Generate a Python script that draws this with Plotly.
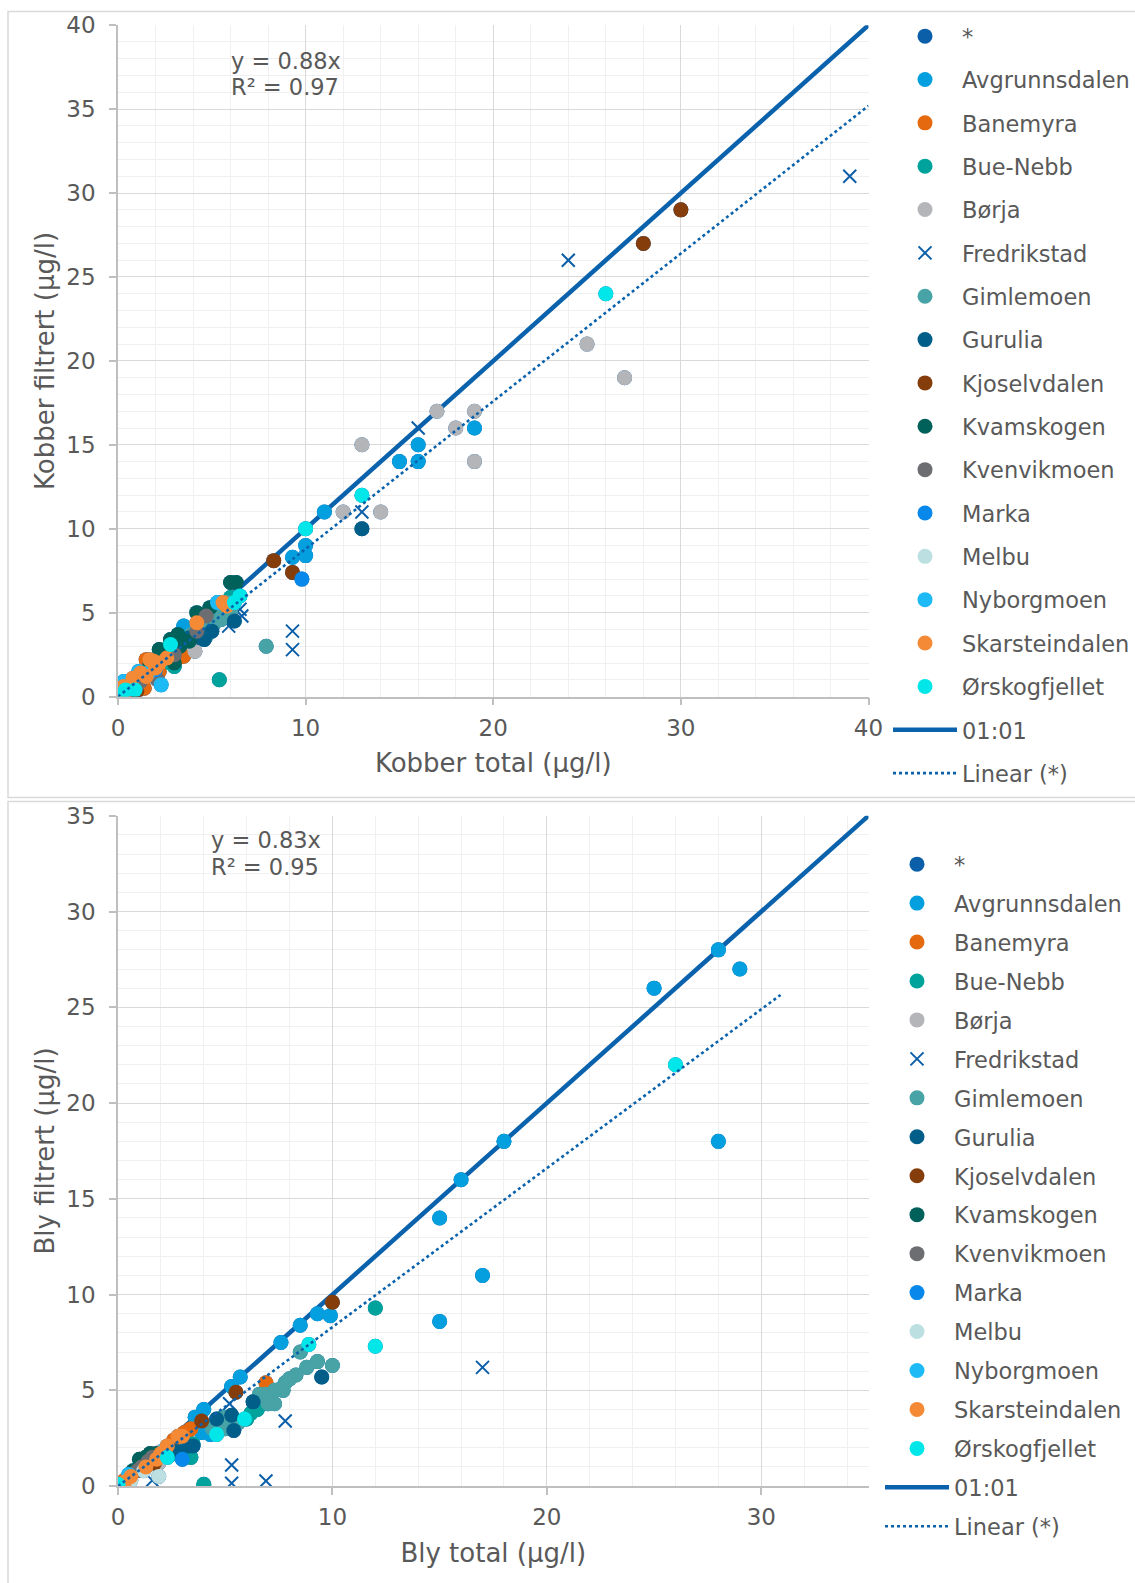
import plotly.graph_objects as go

# ---------------------------------------------------------------- data
SERIES = ["Avgrunnsdalen", "Banemyra", "Bue-Nebb", "Børja", "Fredrikstad",
          "Gimlemoen", "Gurulia", "Kjoselvdalen", "Kvamskogen", "Kvenvikmoen",
          "Marka", "Melbu", "Nyborgmoen", "Skarsteindalen", "Ørskogfjellet"]

COLORS = {
    "*": "#0B5FA9",
    "Avgrunnsdalen": "#049FDF",
    "Banemyra": "#E4690F",
    "Bue-Nebb": "#00A39C",
    "Børja": "#B4B5B8",
    "Fredrikstad": "#0B5FA9",
    "Gimlemoen": "#47A3A5",
    "Gurulia": "#005E88",
    "Kjoselvdalen": "#843D0B",
    "Kvamskogen": "#00615B",
    "Kvenvikmoen": "#6C6E72",
    "Marka": "#0788EA",
    "Melbu": "#BCE0E2",
    "Nyborgmoen": "#1DBAF6",
    "Skarsteindalen": "#F58A36",
    "Ørskogfjellet": "#00E6E9",
}

# Kobber (copper): total vs filtered, µg/l
cu_total = {
    "Avgrunnsdalen": [19, 16, 15, 16, 11, 10, 9.3, 10, 3.5, 5.3, 5.5],
    "Banemyra": [3.5, 1.5, 0.8, 1.4, 3.2, 1.0, 2.2],
    "Bue-Nebb": [5.4, 3.0, 6.0, 5.8, 2.8],
    "Børja": [25, 27, 17, 18, 19, 19, 13, 12, 14, 4.1],
    "Fredrikstad": [39, 24, 16, 13, 9.3, 9.3, 6.6, 6.5, 5.9],
    "Gimlemoen": [7.9, 4.6, 5.0, 5.3, 5.6, 4.8, 4.2, 5.8, 4.4, 3.9, 5.1, 5.5, 6.0, 4.7, 3.6],
    "Gurulia": [13, 6.2, 4.6, 3.8, 5.0, 4.4],
    "Kjoselvdalen": [30, 28, 8.3, 9.3, 0.6, 0.8, 0.4, 1.0],
    "Kvamskogen": [6.0, 6.3, 4.9, 4.2, 3.2, 3.8, 2.2, 2.8, 3.0, 0.5, 1.7, 3.3],
    "Kvenvikmoen": [4.7, 4.2, 2.1, 5.6, 1.2, 3.0, 1.0, 0.6],
    "Marka": [9.8, 2.0],
    "Melbu": [0.0, 0.2, 0.4, 0.1],
    "Nyborgmoen": [2.3, 0.3, 1.1, 5.3, 0.5, 1.6],
    "Skarsteindalen": [5.8, 4.2, 2.2, 1.7, 2.6, 1.2, 0.8, 0.3, 0.0, 5.6, 1.5, 2.0, 0.5, 1.9],
    "Ørskogfjellet": [26, 13, 10, 6.5, 6.2, 2.8, 0.4, 0.9, 0.2],
}
cu_filt = {
    "Avgrunnsdalen": [16, 15, 14, 14, 11, 9, 8.3, 8.4, 4.2, 5.4, 5.6],
    "Banemyra": [2.4, 2.2, 0.6, 0.5, 2.3, 0.9, 1.5],
    "Bue-Nebb": [1.0, 1.8, 5.9, 5.2, 2.0],
    "Børja": [21, 19, 17, 16, 17, 14, 15, 11, 11, 2.7],
    "Fredrikstad": [31, 26, 16, 11, 3.9, 2.8, 4.8, 5.2, 4.2],
    "Gimlemoen": [3.0, 4.3, 4.6, 4.9, 5.2, 4.0, 3.9, 5.6, 4.8, 3.7, 4.3, 4.6, 5.0, 3.6, 3.4],
    "Gurulia": [10, 4.5, 3.4, 3.5, 3.9, 3.5],
    "Kjoselvdalen": [29, 27, 8.1, 7.4, 0.2, 0.1, 0.1, 0.3],
    "Kvamskogen": [6.8, 6.8, 5.3, 5.0, 3.7, 3.3, 2.8, 3.4, 2.0, 0.7, 1.9, 3.0],
    "Kvenvikmoen": [4.8, 3.9, 1.0, 5.6, 0.9, 2.5, 0.6, 0.2],
    "Marka": [7.0, 1.6],
    "Melbu": [0.1, 0.1, 0.3, 0.0],
    "Nyborgmoen": [0.7, 0.9, 1.5, 5.6, 0.8, 1.4],
    "Skarsteindalen": [5.4, 4.4, 2.0, 2.2, 2.3, 1.4, 1.1, 0.6, 0.2, 5.6, 1.2, 1.7, 0.4, 2.1],
    "Ørskogfjellet": [24, 12, 10, 6.0, 5.6, 3.1, 0.4, 0.4, 0.1],
}

# Bly (lead): total vs filtered, µg/l
pb_total = {
    "Avgrunnsdalen": [28, 29, 25, 28, 18, 16, 15, 17, 15, 9.9, 9.3, 8.5, 7.6, 5.7, 5.3,
                      4.0, 3.6, 3.9, 4.3, 4.4, 3.0],
    "Banemyra": [6.9, 3.1, 2.6, 1.3, 0.3, 3.3, 3.4, 2.9],
    "Bue-Nebb": [12, 4.0, 6.2, 3.4, 6.0, 2.4, 6.5, 3.5],
    "Børja": [1.6, 2.0, 1.3, 1.9, 1.2, 2.3, 1.7],
    "Fredrikstad": [17, 7.8, 5.3, 5.3, 6.9, 5.2, 1.6],
    "Gimlemoen": [8.5, 10, 9.3, 8.8, 8.3, 7.8, 7.3, 6.9, 7.3, 7.7, 4.9, 4.4, 5.6, 7.6,
                  6.6, 8.0, 7.0, 4.6, 5.0],
    "Gurulia": [9.5, 6.3, 5.3, 4.6, 5.4, 3.3, 2.5, 2.8, 3.5],
    "Kjoselvdalen": [10, 3.9, 5.5, 1.7],
    "Kvamskogen": [1.5, 0.7, 1.0, 1.3, 1.8],
    "Kvenvikmoen": [1.4, 1.1, 0.9, 1.6],
    "Marka": [3.0],
    "Melbu": [1.9, 0.3, 0.6, 1.2],
    "Nyborgmoen": [2.2, 0.5],
    "Skarsteindalen": [1.3, 0.6, 0.3, 3.0, 2.3, 1.8, 2.0, 2.8],
    "Ørskogfjellet": [26, 12, 8.9, 5.9, 4.6, 2.3, 0.0],
}
pb_filt = {
    "Avgrunnsdalen": [28, 27, 26, 18, 18, 16, 14, 11, 8.6, 8.9, 9.0, 8.4, 7.5, 5.7, 5.2,
                      4.0, 3.6, 2.8, 2.7, 2.8, 2.0],
    "Banemyra": [5.4, 2.8, 2.4, 1.2, 0.3, 2.9, 3.0, 2.6],
    "Bue-Nebb": [9.3, 0.1, 3.8, 1.5, 3.5, 1.6, 4.0, 2.2],
    "Børja": [1.7, 1.8, 1.5, 1.2, 1.4, 1.9, 1.6],
    "Fredrikstad": [6.2, 3.4, 1.1, 0.15, 0.27, 4.3, 0.3],
    "Gimlemoen": [7.0, 6.3, 6.5, 6.2, 5.8, 5.4, 5.0, 4.8, 4.3, 5.0, 3.6, 3.0, 3.3, 5.1,
                  4.8, 5.6, 4.3, 3.4, 3.0],
    "Gurulia": [5.7, 4.4, 3.7, 3.5, 2.9, 2.1, 1.9, 1.8, 2.1],
    "Kjoselvdalen": [9.6, 3.4, 4.9, 1.2],
    "Kvamskogen": [1.7, 0.8, 1.4, 1.5, 1.7],
    "Kvenvikmoen": [1.3, 1.0, 0.8, 1.5],
    "Marka": [1.4],
    "Melbu": [0.5, 0.1, 0.3, 0.8],
    "Nyborgmoen": [1.9, 0.6],
    "Skarsteindalen": [1.0, 0.5, 0.2, 2.6, 2.1, 1.4, 1.7, 2.6],
    "Ørskogfjellet": [22, 7.3, 7.4, 3.5, 2.7, 1.5, 0.1],
}

# trendline slopes and the x-range they cover
CU_SLOPE, CU_R2, CU_TREND_END = 0.88, 0.97, 40.0
PB_SLOPE, PB_R2, PB_TREND_END = 0.83, 0.95, 30.9
CU_RANGE, PB_RANGE = 40, 35

# ---------------------------------------------------------------- layout helpers
W, H = 1135, 1583
FONT = "DejaVu Sans"
TXT = "#595959"


def px_x(v):
    return v / W


def px_y(v):
    return 1 - v / H


PLOT_L, PLOT_R = 118, 868.5
TOP_T, TOP_B = 25.2, 696.6
BOT_T, BOT_B = 815.8, 1486.1

fig = go.Figure()


def add_panel(total, filt, slope, trend_end, rng, xa, ya, legend, tag):
    # 1:1 reference line
    fig.add_trace(go.Scatter(
        x=[0, rng], y=[0, rng], mode="lines", name="01:01",
        line=dict(color="#0A62AC", width=4.5),
        xaxis=xa, yaxis=ya, legend=legend, legendrank=17,
        legendgroup=tag + "11", hoverinfo="skip"))
    # pooled series (all circle-marked sites)
    all_x, all_y = [], []
    for s in SERIES:
        if s != "Fredrikstad":
            all_x += total[s]
            all_y += filt[s]
    fig.add_trace(go.Scatter(
        x=all_x, y=all_y, mode="markers", name="*",
        marker=dict(color=COLORS["*"], size=15, line=dict(width=0)),
        xaxis=xa, yaxis=ya, legend=legend, legendrank=1,
        legendgroup=tag + "star"))
    for i, s in enumerate(SERIES):
        if s == "Fredrikstad":
            marker = dict(symbol="x-thin", color=COLORS[s], size=13,
                          line=dict(color=COLORS[s], width=2))
        else:
            marker = dict(symbol="circle", color=COLORS[s], size=15,
                          line=dict(width=0))
        fig.add_trace(go.Scatter(
            x=total[s], y=filt[s], mode="markers", name=s, marker=marker,
            xaxis=xa, yaxis=ya, legend=legend, legendrank=2 + i,
            legendgroup=tag + s))
    # linear trendline through origin for the pooled series
    fig.add_trace(go.Scatter(
        x=[0, trend_end], y=[0, slope * trend_end], mode="lines",
        name="Linear (*)",
        line=dict(color="#0A62AC", width=2.6, dash="dot"),
        xaxis=xa, yaxis=ya, legend=legend, legendrank=18,
        legendgroup=tag + "lin", hoverinfo="skip"))


add_panel(cu_total, cu_filt, CU_SLOPE, CU_TREND_END, CU_RANGE, "x", "y", "legend", "cu")
add_panel(pb_total, pb_filt, PB_SLOPE, PB_TREND_END, PB_RANGE, "x2", "y2", "legend2", "pb")

axis_common = dict(
    showline=True, linecolor="#BFBFBF", linewidth=1.5,
    ticks="outside", ticklen=7, tickcolor="#BFBFBF", tickwidth=1.5,
    gridcolor="#D9D9D9", gridwidth=1.3, zeroline=False,
    tickfont=dict(family=FONT, size=23, color=TXT),
    automargin=False,
)
x_extra = dict(ticklabelstandoff=3)
y_extra = dict(ticklabelstandoff=9)
TITLE_FONT = dict(family=FONT, size=26, color=TXT)

fig.update_layout(
    width=W, height=H,
    margin=dict(l=0, r=0, t=0, b=0, autoexpand=False),
    paper_bgcolor="white", plot_bgcolor="white",
    font=dict(family=FONT, color=TXT),
    xaxis=dict(**axis_common, **x_extra, domain=[px_x(PLOT_L), px_x(PLOT_R)], anchor="y",
               range=[0, CU_RANGE], dtick=10, tick0=0,
               minor=dict(dtick=2, showgrid=True, gridcolor="#F0F0F0", gridwidth=1.3, ticks=""),
               title=dict(text="Kobber total (µg/l)", standoff=14, font=TITLE_FONT)),
    yaxis=dict(**axis_common, **y_extra, domain=[px_y(TOP_B), px_y(TOP_T)], anchor="x",
               range=[0, CU_RANGE], dtick=5, tick0=0,
               minor=dict(dtick=1, showgrid=True, gridcolor="#F0F0F0", gridwidth=1.3, ticks=""),
               title=dict(text="Kobber filtrert (µg/l)", standoff=4, font=TITLE_FONT)),
    xaxis2=dict(**axis_common, **x_extra, domain=[px_x(PLOT_L), px_x(PLOT_R)], anchor="y2",
                range=[0, PB_RANGE], dtick=10, tick0=0,
                minor=dict(dtick=2, showgrid=True, gridcolor="#F0F0F0", gridwidth=1.3, ticks=""),
                title=dict(text="Bly total (µg/l)", standoff=14, font=TITLE_FONT)),
    yaxis2=dict(**axis_common, **y_extra, domain=[px_y(BOT_B), px_y(BOT_T)], anchor="x2",
                range=[0, PB_RANGE], dtick=5, tick0=0,
                minor=dict(dtick=1, showgrid=True, gridcolor="#F0F0F0", gridwidth=1.3, ticks=""),
                title=dict(text="Bly filtrert (µg/l)", standoff=4, font=TITLE_FONT)),
    legend=dict(x=888 / W, xanchor="left", y=px_y(15), yanchor="top",
                font=dict(family=FONT, size=22.5, color=TXT),
                itemwidth=64, tracegroupgap=11.1, bgcolor="rgba(0,0,0,0)",
                itemclick=False, itemdoubleclick=False),
    legend2=dict(x=880 / W, xanchor="left", y=px_y(843), yanchor="top",
                 font=dict(family=FONT, size=22.5, color=TXT),
                 itemwidth=64, tracegroupgap=6.7, bgcolor="rgba(0,0,0,0)",
                 itemclick=False, itemdoubleclick=False),
    showlegend=True,
)

# regression labels
ANN_FONT = dict(family=FONT, size=22.5, color=TXT)
for x0, y0, txt in [(229, 61, f"y = {CU_SLOPE:.2f}x"), (229, 87, f"R² = {CU_R2:.2f}"),
                    (209, 840, f"y = {PB_SLOPE:.2f}x"), (209, 867, f"R² = {PB_R2:.2f}")]:
    fig.add_annotation(x=px_x(x0), y=px_y(y0), xref="paper", yref="paper",
                       xanchor="left", yanchor="middle", showarrow=False,
                       text=txt, font=ANN_FONT)

# chart frames
for y0, y1 in [(11.5, 797.5), (801.5, 1590)]:
    fig.add_shape(type="rect", xref="paper", yref="paper",
                  x0=px_x(8), x1=px_x(1140), y0=px_y(y1), y1=px_y(y0),
                  line=dict(color="#D9D9D9", width=1.5), layer="below")

fig.write_html("out.html")
